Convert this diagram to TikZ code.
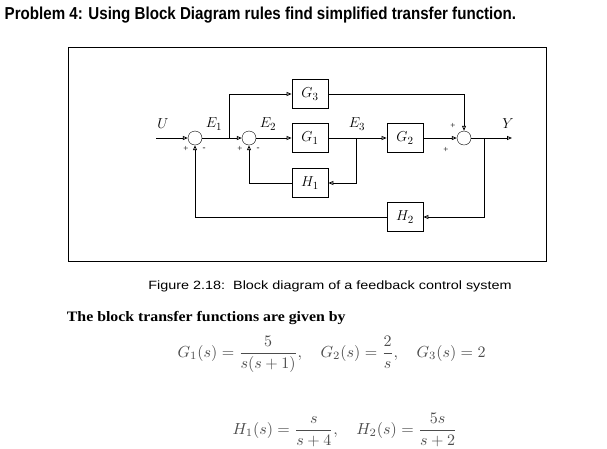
\documentclass[tikz,border=0pt]{standalone}
\usepackage{amsmath}
\usepackage{fontspec}
\setmainfont{Liberation Serif}
\setsansfont{Liberation Sans}
\usetikzlibrary{arrows.meta}
\begin{document}
\begin{tikzpicture}[x=1pt,y=-1pt,
  blk/.style={draw,thick,minimum width=36pt,minimum height=29pt,font=\fontsize{15}{15}\selectfont},
  sum/.style={draw,circle,minimum size=14pt,inner sep=0pt},
  sig/.style={-{Triangle[open,length=5pt,width=4pt]},thick},
  lab/.style={font=\fontsize{15}{15}\selectfont},
  pm/.style={font=\small}]
\useasboundingbox (0,0) rectangle (607,448);
\node[anchor=west,font=\sffamily\bfseries\Large,xscale=1.05,yscale=1.2,transform shape] (title) at (1,15) {Problem 4: Using Block Diagram rules find simplified transfer function.};
\node[draw,thick,minimum width=478pt,minimum height=214pt,anchor=north west] (frame) at (68,47) {};
\node[sum] (s1) at (195,138) {};
\node[sum] (s2) at (249,138) {};
\node[sum] (s3) at (464,138) {};
\node[blk] (g3) at (310,94) {$G_3$};
\node[blk] (g1) at (310,138) {$G_1$};
\node[blk] (g2) at (405,138) {$G_2$};
\node[blk] (h1) at (310,183) {$H_1$};
\node[blk] (h2) at (405,217) {$H_2$};
\coordinate (u) at (156,138);
\coordinate (y) at (512,138);
\coordinate (b1) at (229,138);
\coordinate (b3) at (356,138);
\coordinate (b4) at (484,138);
\draw[sig] (u) -- (s1);
\draw[sig] (s1) -- (s2);
\draw[sig] (b1) |- (g3);
\draw[sig] (s2) -- (g1);
\draw[sig] (g1) -- (g2);
\draw[sig] (g2) -- (s3);
\draw[sig] (g3) -| (s3);
\draw[sig] (s3) -- (y);
\draw[sig] (b3) |- (h1);
\draw[sig] (h1) -| (s2);
\draw[sig] (b4) |- (h2);
\draw[sig] (h2) -| (s1);
\node[lab] (lu) at (163,124) {$U$};
\node[lab] (le1) at (214,124) {$E_1$};
\node[lab] (le2) at (268,124) {$E_2$};
\node[lab] (le3) at (357,124) {$E_3$};
\node[lab] (ly) at (508,124) {$Y$};
\node[pm] (p1) at (186,149) {+};
\node[pm] (m1) at (204,149) {-};
\node[pm] (p2) at (240,149) {+};
\node[pm] (m2) at (258,149) {-};
\node[pm] (p3) at (453,126) {+};
\node[pm] (p4) at (446,150) {+};
\node[font=\sffamily\large,xscale=1.2,transform shape] (cap) at (330,286) {Figure 2.18:\ \ Block diagram of a feedback control system};
\node[anchor=west,font=\bfseries\Large,xscale=1.1,transform shape] (txt) at (63,318) {The block transfer functions are given by};
\node[anchor=west,text=black!70,scale=1.6,transform shape] (eq1) at (172,354) {$G_1(s)=\dfrac{5}{s(s+1)},\quad G_2(s)=\dfrac{2}{s},\quad G_3(s)=2$};
\node[anchor=west,text=black!70,scale=1.6,transform shape] (eq2) at (227,430) {$H_1(s)=\dfrac{s}{s+4},\quad H_2(s)=\dfrac{5s}{s+2}$};
\end{tikzpicture}
\end{document}
